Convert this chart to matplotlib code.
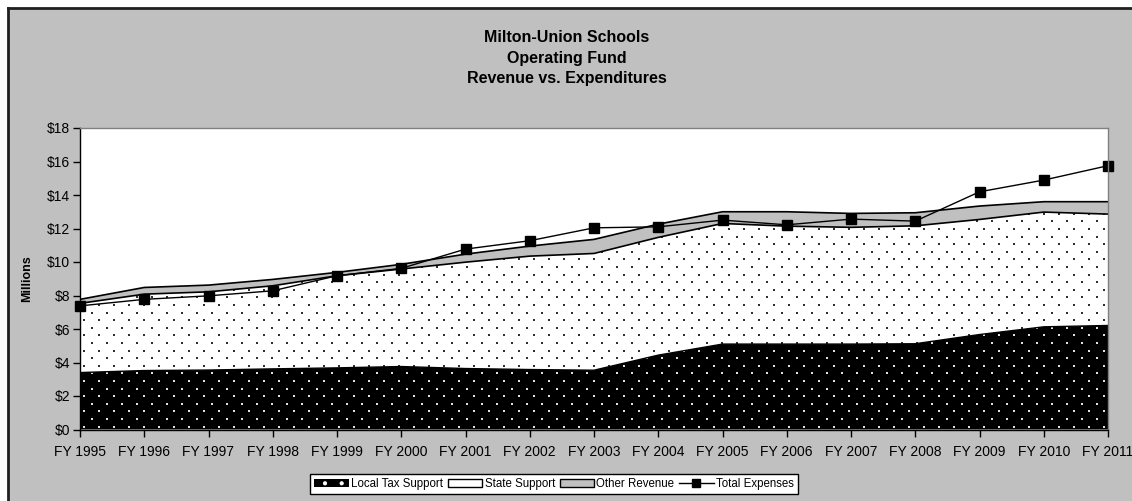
import numpy as np
import matplotlib
matplotlib.use("Agg")
import matplotlib.pyplot as plt
from matplotlib.patches import Patch, Rectangle
from matplotlib.lines import Line2D
from matplotlib.ticker import FuncFormatter

plt.rcParams['font.family'] = ['Liberation Sans', 'DejaVu Sans']
plt.rcParams['hatch.linewidth'] = 0.6

# data (millions of dollars)
years = ["FY 1995", "FY 1996", "FY 1997", "FY 1998", "FY 1999", "FY 2000",
		"FY 2001", "FY 2002", "FY 2003", "FY 2004", "FY 2005", "FY 2006",
		"FY 2007", "FY 2008", "FY 2009", "FY 2010", "FY 2011"]
local_tax = [3.40, 3.52, 3.55, 3.62, 3.68, 3.76, 3.64, 3.58, 3.54, 4.44, 5.10,
			5.10, 5.10, 5.12, 5.67, 6.13, 6.21]
state_support = [4.13, 4.56, 4.67, 4.96, 5.50, 5.82, 6.35, 6.77, 6.97, 7.03, 7.20,
				7.04, 6.97, 7.04, 6.87, 6.85, 6.65]
other_revenue = [0.24, 0.40, 0.40, 0.38, 0.20, 0.28, 0.48, 0.60, 0.84, 0.79, 0.70,
				0.86, 0.83, 0.78, 0.80, 0.62, 0.74]
total_expenses = [7.38, 7.77, 7.98, 8.28, 9.18, 9.62, 10.77, 11.27, 12.04, 12.10, 12.50,
				12.22, 12.56, 12.44, 14.19, 14.89, 15.75]

AX_W, AX_H = 1028, 301.5   # axes size in pixels

def dot_texture(ax, poly, color):
	'''staggered dot pattern (Excel style) clipped to a filled area'''
	xs, ys = [], []
	for r, yp in enumerate(np.arange(3, AX_H, 7.6)):
		xp = np.arange(4 + (r % 2) * 7.5, AX_W, 15)
		xs.append(xp)
		ys.append(np.full(len(xp), yp))
	xs = np.concatenate(xs) / AX_W
	ys = np.concatenate(ys) / AX_H
	sc = ax.scatter(xs, ys, s=3.0, c=color, linewidths=0, marker='s', transform=ax.transAxes, zorder=1.5)
	sc.set_clip_path(poly.get_paths()[0], ax.transData)

def main():
	x = np.arange(len(years))
	lt = np.array(local_tax)
	st = lt + np.array(state_support)
	ot = st + np.array(other_revenue)

	fig = plt.figure(figsize=(11.32, 5.01), dpi=100, facecolor='white')
	# gray chart area with black border on top / left
	fig.patches.append(Rectangle((8/1132, 0), 1, 1 - 8/501, transform=fig.transFigure,
								facecolor='#c0c0c0', edgecolor='none', zorder=-10))
	fig.add_artist(Line2D([8/1132, 1], [1 - 8/501, 1 - 8/501], transform=fig.transFigure,
						color='#202020', lw=2))
	fig.add_artist(Line2D([8/1132, 8/1132], [0, 1 - 8/501], transform=fig.transFigure,
						color='#202020', lw=2))

	ax = fig.add_axes([80/1132, 1 - 429.5/501, AX_W/1132, AX_H/501])
	ax.set_facecolor('white')

	# stacked areas
	p1 = ax.fill_between(x, 0, lt, facecolor='black', linewidth=0, zorder=1)
	p2 = ax.fill_between(x, lt, st, facecolor='white', linewidth=0, zorder=1)
	ax.fill_between(x, st, ot, facecolor='#c0c0c0', edgecolor='none', linewidth=0, zorder=1)
	dot_texture(ax, p1, '#e0e0e0')
	dot_texture(ax, p2, '#303030')
	ax.plot(x, lt, color='black', lw=1, zorder=2)
	ax.plot(x, st, color='black', lw=1.2, zorder=2)
	ax.plot(x, ot, color='black', lw=1.2, zorder=2)

	# total expenses
	ax.plot(x, total_expenses, color='black', lw=1, marker='s', markersize=7.5, zorder=3, clip_on=False)

	ax.set_xlim(0, len(years) - 1)
	ax.set_ylim(0, 18)
	ax.set_xticks(x)
	ax.set_xticklabels(years, fontsize=10)
	ax.set_yticks(np.arange(0, 19, 2))
	ax.yaxis.set_major_formatter(FuncFormatter(lambda v, p: '${:d}'.format(int(v))))
	ax.tick_params(axis='y', labelsize=10, length=5, width=1, direction='out', pad=2)
	ax.tick_params(axis='x', length=5, width=1, direction='out', pad=6)
	ax.spines['left'].set_color('black')
	ax.spines['bottom'].set_color('black')
	ax.spines['top'].set_color('#808080')
	ax.spines['right'].set_color('#808080')
	for s in ax.spines.values():
		s.set_linewidth(1)
		s.set_zorder(4)

	ax.set_ylabel('Millions', fontsize=9, fontweight='bold', labelpad=10)

	fig.text(567/1132, 1 - 38/501, 'Milton-Union Schools', ha='center', va='center', fontsize=11.5, fontweight='bold')
	fig.text(567/1132, 1 - 58/501, 'Operating Fund', ha='center', va='center', fontsize=11.5, fontweight='bold')
	fig.text(567/1132, 1 - 78/501, 'Revenue vs. Expenditures', ha='center', va='center', fontsize=11.5, fontweight='bold')

	handles = [Patch(facecolor='black', edgecolor='white', hatch='.', linewidth=0),
			Patch(facecolor='white', edgecolor='black', linewidth=1),
			Patch(facecolor='#c0c0c0', edgecolor='black', linewidth=1),
			Line2D([], [], color='black', lw=1, marker='s', markersize=6)]
	labels = ['Local Tax Support', 'State Support', 'Other Revenue', 'Total Expenses']
	leg = fig.legend(handles, labels, loc='upper center', bbox_to_anchor=(554/1132, 1 - 474/501),
					bbox_transform=fig.transFigure, ncol=4, fontsize=8.3, frameon=True,
					fancybox=False, edgecolor='black', framealpha=1, handlelength=3.0,
					handleheight=0.6, handletextpad=0.2, columnspacing=0.4, borderpad=0.35,
					borderaxespad=0)
	leg.get_frame().set_linewidth(1)

	fig.savefig('out.png', dpi=100, facecolor=fig.get_facecolor())


if __name__ == "__main__":
	main()
